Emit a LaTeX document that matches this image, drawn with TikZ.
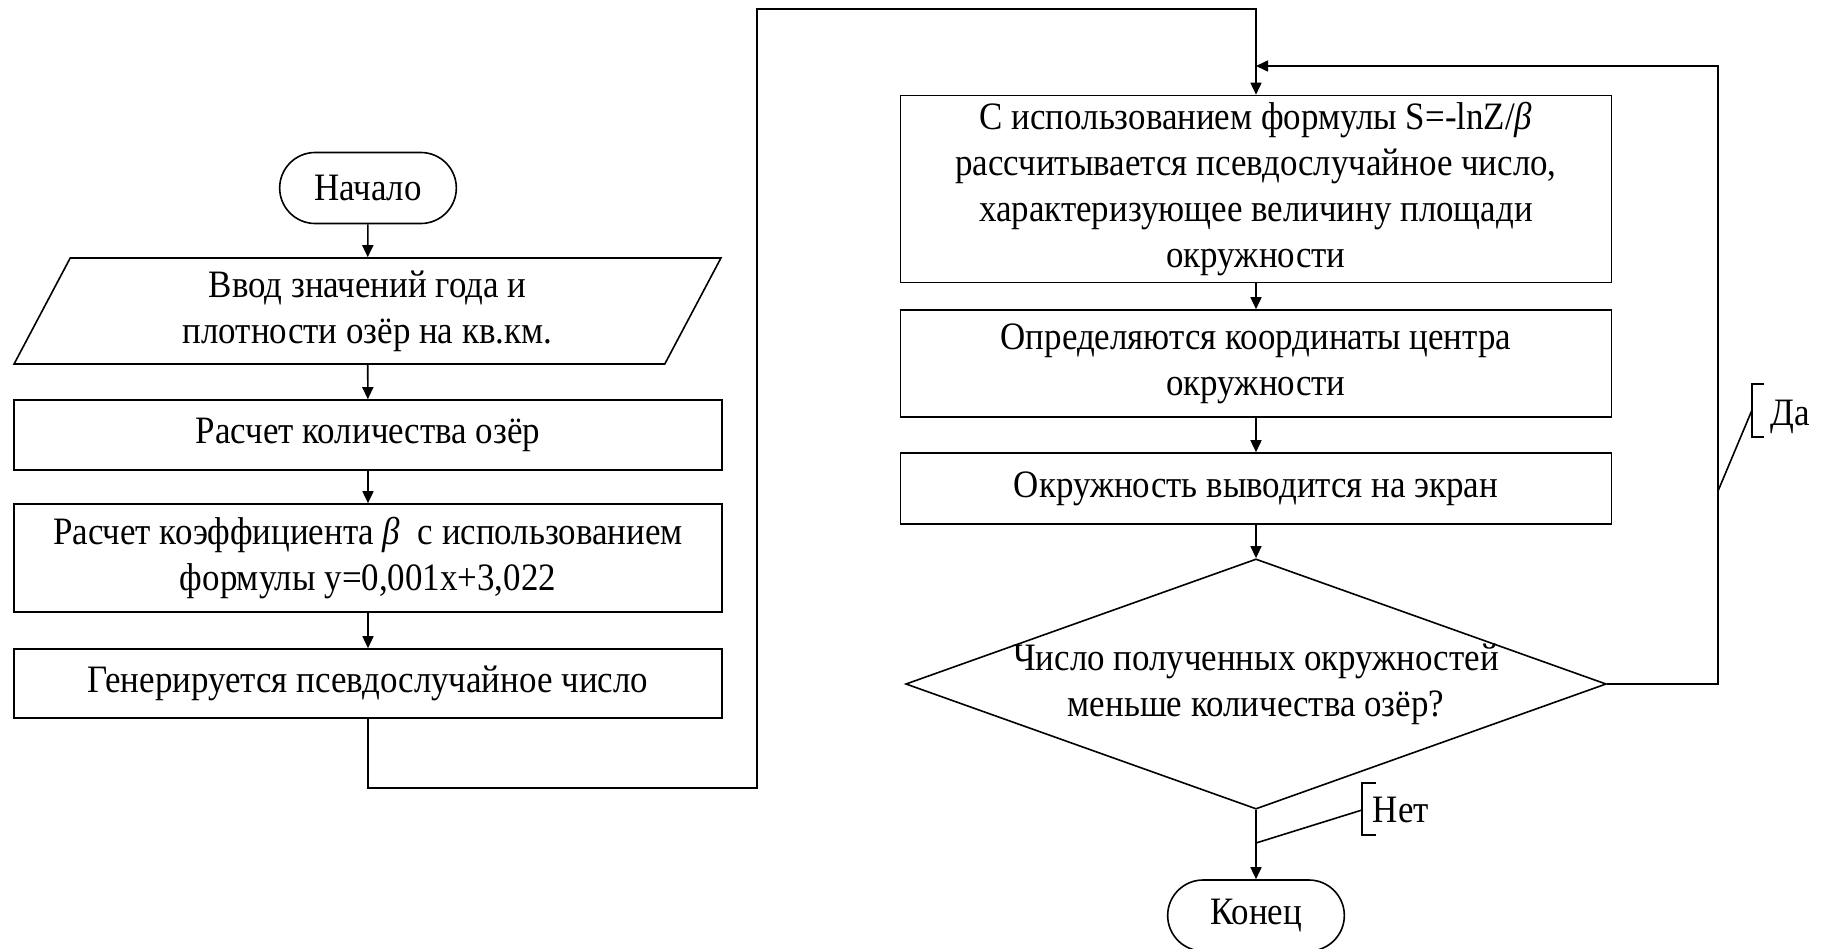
\documentclass[tikz,border=0pt]{standalone}
\usepackage{fontspec}
\setmainfont[FakeStretch=0.9]{Liberation Serif}
\usetikzlibrary{shapes.geometric,shapes.misc,arrows.meta}

\tikzset{
    >={Triangle[length=6pt,width=5.5pt]},
    every node/.style={font=\fontsize{19.4pt}{23pt}\selectfont, align=center},
    term/.style={draw, rounded rectangle, minimum width=95pt, minimum height=35.5pt},
    proc/.style={draw, rectangle, minimum width=354pt},
    io/.style={draw, trapezium, trapezium left angle=69, trapezium right angle=111,
        trapezium stretches=true, minimum width=353.5pt, minimum height=53pt},
    decide/.style={draw, diamond, aspect=2.8, inner sep=-0.75pt},
    lbl/.style={anchor=west, inner sep=0pt},
}

\begin{document}
\begin{tikzpicture}[x=0.5pt, y=-0.5pt, line width=0.8pt]
    \useasboundingbox (0,0) rectangle (1826,948);

    % left column
    \node[term] (start) at (368,188) {Начало};
    \node[io] (input) at (367.5,311) {Ввод значений года и\\плотности озёр на кв.км.};
    \node[proc, minimum height=35pt] (count) at (368,435) {Расчет количества озёр};
    \node[proc, minimum height=54pt] (coef) at (368,558)
        {Расчет коэффициента \textit{β}\ \ с использованием\\формулы y=0,001x+3,022};
    \node[proc, minimum height=34.5pt] (gen) at (368,683.5) {Генерируется псевдослучайное число};

    % right column
    \node[proc, minimum width=355.5pt, minimum height=88pt] (area) at (1256,189)
        {С использованием формулы S=-lnZ/\textit{β}\\рассчитывается псевдослучайное число,\\характеризующее величину площади\\окружности};
    \node[proc, minimum width=355.5pt, minimum height=53.5pt] (centre) at (1256,363.5)
        {Определяются координаты центра\\окружности};
    \node[proc, minimum width=355.5pt, minimum height=35.5pt] (show) at (1256,488.5)
        {Окружность выводится на экран};
    \node[decide] (check) at (1256,684)
        {Число полученных окружностей\\меньше количества озёр?};
    \node[term] (end) at (1256,915.5) {Конец};

    \coordinate (lowturn) at (757,788);
    \coordinate (topturn) at (757,9);
    \coordinate (yesturn) at (1718,66);
    \coordinate (merge) at (1256,66);

    \draw[->] (start) -- (input);
    \draw[->] (input) -- (count);
    \draw[->] (count) -- (coef);
    \draw[->] (coef) -- (gen);
    \draw[->] (gen.south) |- (lowturn) -- (topturn) -| (area.north);

    \draw[->] (area) -- (centre);
    \draw[->] (centre) -- (show);
    \draw[->] (show) -- (check);
    \draw[->] (check) -- (end);
    \draw[->] (check.east) -| (yesturn) -- (merge);

    % branch labels
    \node[lbl] (yes) at (1770,417) {Да};
    \coordinate (yesmark) at (1752,410);
    \coordinate (yesfoot) at (1718,491);
    \draw (1764,384) -- (1752,384) -- (1752,437) -- (1764,437);
    \draw (yesfoot) -- (yesmark);

    \node[lbl] (no) at (1372,810) {Нет};
    \coordinate (nomark) at (1362,810);
    \coordinate (nofoot) at (1256,843);
    \draw (1376,783) -- (1362,783) -- (1362,835) -- (1376,835);
    \draw (nofoot) -- (nomark);
\end{tikzpicture}
\end{document}
